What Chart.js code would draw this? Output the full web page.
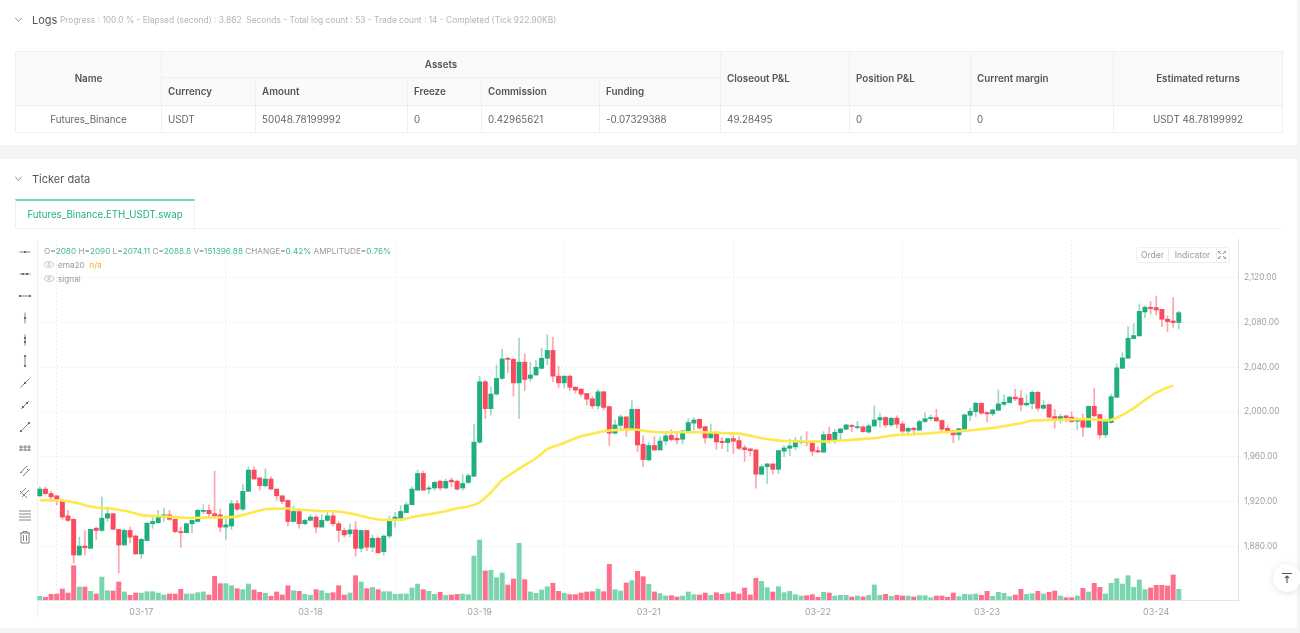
<!DOCTYPE html>
<html>
<head>
<meta charset="utf-8">
<title>Ticker data</title>
<script src="https://cdn.jsdelivr.net/npm/chart.js@4/dist/chart.umd.min.js"></script>
<style>
html,body{margin:0;padding:0;width:1300px;height:633px;overflow:hidden;background:#f3f4f6;font-family:Inter,"Noto Sans",sans-serif;color:#555;}
#page{position:absolute;left:0;top:0;width:1300px;height:633px;filter:blur(.35px);}
.panel{position:absolute;left:0;width:1297px;background:#fff;}
.abs{position:absolute;white-space:nowrap;}
.title{font-size:11px;color:#555;}
.chev{position:absolute;width:7px;height:7px;}
table{position:absolute;left:15px;top:51px;width:1267px;height:82px;border-collapse:collapse;table-layout:fixed;font-size:9.8px;color:#666;}
th,td{border:1px solid #efefef;padding:0 6px;text-align:left;font-weight:400;}
th{background:#fafafa;font-weight:600;color:#555;}
.c{text-align:center;}
.tab{left:15px;top:199px;width:180px;height:29px;line-height:28px;text-align:center;font-size:9.7px;color:#1fb27f;border-top:2px solid #6fd6b0;border-left:1px solid #f0f0f0;border-right:1px solid #f0f0f0;box-sizing:border-box;}
.tabline{left:15px;top:228px;width:1267px;height:1px;background:#f0f0f0;}
.legend{font-size:8.2px;color:#999;}
.legend b{font-weight:400;color:#3fbb8e;}
.btns{left:1136px;top:247px;width:94px;height:16px;border:1px solid #efefef;border-radius:3px;box-sizing:border-box;background:#fff;font-size:8.6px;color:#999;line-height:14px;}
.btns span{position:absolute;top:0;height:14px;text-align:center;}
#chartBox{position:absolute;left:37px;top:229px;width:1253px;height:391px;}
.toTop{left:1273px;top:564px;width:28px;height:28px;border-radius:50%;background:#fff;box-shadow:0 1px 6px rgba(0,0,0,.12);}
</style>
</head>
<body>
<div id="page">

<div class="panel" style="top:0;height:145px;"></div>
<div class="panel" style="top:159px;height:469px;"></div>

<svg class="chev" style="left:15px;top:16px;" viewBox="0 0 7 7"><path d="M0 1.5 L3.5 5.5 L7 1.5" fill="none" stroke="#777" stroke-width=".8"/></svg>
<div class="abs title" style="left:32px;top:13px;">Logs</div>
<div class="abs" style="left:60px;top:15px;font-size:8.4px;color:#b5b5b5;">Progress : 100.0 % - Elapsed (second) : 3.862&nbsp; Seconds - Total log count : 53 - Trade count : 14 - Completed (Tick 922.90KB)</div>

<table>
<colgroup><col style="width:146px"><col style="width:94px"><col style="width:152px"><col style="width:74px"><col style="width:118px"><col style="width:121px"><col style="width:129px"><col style="width:121px"><col style="width:143px"><col style="width:169px"></colgroup>
<tr style="height:26px"><th class="c" rowspan="2">Name</th><th class="c" colspan="5">Assets</th><th rowspan="2">Closeout P&amp;L</th><th rowspan="2">Position P&amp;L</th><th rowspan="2">Current margin</th><th class="c" rowspan="2">Estimated returns</th></tr>
<tr style="height:28px"><th>Currency</th><th>Amount</th><th>Freeze</th><th>Commission</th><th>Funding</th></tr>
<tr style="height:27px"><td class="c">Futures_Binance</td><td>USDT</td><td>50048.78199992</td><td>0</td><td>0.42965621</td><td>-0.07329388</td><td>49.28495</td><td>0</td><td>0</td><td class="c">USDT 48.78199992</td></tr>
</table>

<svg class="chev" style="left:15px;top:175px;" viewBox="0 0 7 7"><path d="M0 1.5 L3.5 5.5 L7 1.5" fill="none" stroke="#777" stroke-width=".8"/></svg>
<div class="abs title" style="left:32px;top:172px;">Ticker data</div>
<div class="abs tab">Futures_Binance.ETH_USDT.swap</div>
<div class="abs tabline"></div>

<div class="abs" style="left:37px;top:240px;width:1px;height:378px;background:#eeeeee;"></div>
<div id="chartBox"><canvas id="chart" width="1253" height="391"></canvas></div>

<div class="abs legend" style="left:44px;top:246px;">O=<b>2080</b> H=<b>2090</b> L=<b>2074.11</b> C=<b>2088.8</b> V=<b>151396.88</b> CHANGE=<b>0.42%</b> AMPLITUDE=<b>0.76%</b></div>
<svg class="abs" style="left:44px;top:261px;" width="10" height="7" viewBox="0 0 10 7"><ellipse cx="5" cy="3.5" rx="4.5" ry="2.8" fill="none" stroke="#aaa" stroke-width=".7"/><circle cx="5" cy="3.5" r="1.2" fill="none" stroke="#aaa" stroke-width=".7"/></svg>
<div class="abs legend" style="left:58px;top:260px;">ema20 &nbsp;<span style="color:#fbb040">n/a</span></div>
<svg class="abs" style="left:44px;top:275px;" width="10" height="7" viewBox="0 0 10 7"><ellipse cx="5" cy="3.5" rx="4.5" ry="2.8" fill="none" stroke="#aaa" stroke-width=".7"/><circle cx="5" cy="3.5" r="1.2" fill="none" stroke="#aaa" stroke-width=".7"/></svg>
<div class="abs legend" style="left:58px;top:274px;">signal</div>

<div class="abs btns">
  <span style="left:0;width:31px;">Order</span>
  <span style="left:31px;width:47px;border-left:1px solid #efefef;border-right:1px solid #efefef;">Indicator</span>
  <svg style="position:absolute;left:81px;top:3px;" width="8" height="8" viewBox="0 0 8 8"><path d="M0 2.5V0H2.5M5.5 0H8V2.5M8 5.5V8H5.5M2.5 8H0V5.5M0 0L3 3M8 0L5 3M8 8L5 5M0 8L3 5" fill="none" stroke="#777" stroke-width=".8"/></svg>
</div>

<div class="abs toTop"></div>
<svg class="abs" style="left:1281px;top:572px;" width="12" height="12" viewBox="0 0 12 12"><path d="M1 1.5H11M6 11V4M4 6L6 4L8 6" fill="none" stroke="#555" stroke-width="1.1"/></svg>

<div id="tools"></div>
</div>

<script>
// Candles (30 slots between day labels)
const opens=[
1925,1931,1927,1925,1920,1907,1904,1872,1880,1878,
1896,1894,1905,1909,1895,1881,1894,1889,1873,1885,
1900,1901,1906,1908,1904,1893,1892,1900,1902,1911,
1912,1909,1908,1897,1898,1918,1913,1929,1948,1941,
1934,1940,1931,1925,1921,1902,1911,1900,1903,1906,
1897,1903,1907,1900,1894,1891,1894.5,1878,1894,1879,
1887,1875,1889,1903,1905,1910,1917,1930,1945,1931,
1932,1938,1932,1939,1938,1932,1937,1942.5,1973,2027,
2003,2016,2030,2048,2047,2026,2044.5,2030,2033,2039,
2048,2055,2032,2026,2032,2022,2020.5,2016.5,2011.7,2005.4,
2018,2004.8,1981,1988,1995.6,1984.6,2002.4,1971,1957,1970,
1966,1974,1979,1976.4,1975.6,1982.4,1990,1993.4,1986.9,1976.8,
1981.8,1973.8,1972.6,1976.2,1974.4,1968,1967,1966,1944.3,1951,
1953.5,1948.7,1965,1967.5,1968.7,1972.6,1973.5,1972.6,1965.4,1964,
1980,1973.5,1981.5,1984.5,1987.8,1986,1986.6,1982,1987.5,1992.9,
1995,1988.4,1994.4,1989.3,1982.8,1985.4,1983.7,1991.4,1994,1995,
1992.3,1985.4,1983.4,1979.5,1984.6,1997,2000.3,2007.8,1999.5,1998.3,
2001.5,2006.9,2008.4,2013.2,2012.3,2006.3,2007.5,2017.6,2003.3,2006.6,
1995.9,1992.3,1996.5,1995.3,1991.7,1993.8,1986.3,2005,1997.7,1979.5,
1990.5,2013.1,2039,2048,2065.6,2068,2089.4,2093.6,2093.3,2091.8,
2082.9,2081.4,2080];
const closes=[
1931,1927,1924,1922,1906,1903,1872,1880,1878.5,1895,
1894,1905,1909,1895,1881,1894,1888,1873,1886,1900.5,
1902,1906,1908,1904,1893,1892,1900,1903,1912,1912,
1909,1907,1897,1899,1918,1913,1929,1948,1940,1934,
1940,1931,1925,1920,1902,1911,1900,1903,1906,1897,
1903,1907,1900,1894,1890,1894.5,1878,1894,1879,1887,
1874,1889,1903,1906,1911,1917,1931,1945,1930,1932,
1937,1932,1938,1937.5,1931,1936,1943,1973,2027,2003,
2016,2030,2047.5,2047,2026,2044.5,2029,2033,2040,2048,
2055,2032,2026,2032,2022,2019.5,2016,2011.4,2005.4,2018,
2004,1981,1988.4,1995.6,1984.6,2002.4,1970.5,1957.4,1970,1966,
1974,1978.6,1975.3,1975,1983,1990.5,1992.8,1985.7,1976.8,1981,
1973.2,1972.6,1976.2,1973.8,1967.5,1966.3,1965.4,1944.3,1951,1953.5,
1948.7,1965.4,1967.8,1969.6,1972.6,1973.5,1972.6,1964.8,1964.2,1979.7,
1973.5,1981.8,1984.8,1988.4,1986.9,1986.9,1982.4,1987.5,1992.8,1995,
1988.4,1994.4,1989,1982.8,1985.4,1984,1991.4,1994,1995,1992,
1984.6,1982.5,1979.5,1985,1997.4,2000.6,2007.8,1998.9,1998.3,2001.8,
2007.2,2008.7,2013.2,2011.7,2006.3,2007.8,2017.6,2003.3,2006,1995.3,
1993.5,1995.9,1994.7,1991.4,1993.8,1986.3,2005,1996.5,1979.5,1991.4,
2013.7,2039.4,2048.3,2065.9,2068.3,2090,2093.6,2092.4,2091.2,2082.9,
2080.8,2079.9,2088.8];
const highs=[
1933,1933,1929,1925,1922,1912,1904,1888,1894,1895,
1897,1924,1915,1909,1895,1895,1897,1890,1887,1901,
1906,1912,1914,1912,1904,1897,1900.5,1903,1913,1917,
1917,1947,1913,1907,1921,1921,1935,1951,1951,1941,
1949,1942,1931,1925,1921,1916,1911,1904,1908,1907,
1908,1911,1911,1902,1896,1900,1902,1894,1894,1890,
1888,1890,1907,1910,1916,1919,1933,1948,1947,1934,
1938,1939,1940,1941,1939,1944,1945,1989,2032,2028,
2022,2042,2056,2049,2048,2066,2052,2044.5,2046,2057,
2069,2067,2041,2032.5,2033,2023,2020.5,2016.5,2013.8,2020.3,
2018.5,2004.8,1993,1997.4,1995.6,2010,2002.4,1978.6,1972.6,1978,
1978,1981,1984,1980.3,1983.3,1994.3,1995,1994,1986.9,1989.3,
1982.4,1977.3,1976.5,1978.5,1978,1970,1967,1966,1952.6,1954,
1953.5,1966,1970,1975.6,1977.3,1978,1982.4,1972.6,1969,1982.4,
1986.3,1984.5,1985.4,1989,1989,1991.4,1987.5,1989.3,2005.4,1998.9,
1995.9,1995,1996.5,1991.4,1986,1986.3,1992.9,1999.5,1997.4,2002.4,
1992.9,1988.4,1983.4,1985.4,1998,2003.3,2008.4,2007.8,1999.8,2002.4,
2019.7,2015.2,2014.4,2020.3,2019.1,2015.2,2019.1,2018.2,2010.2,2006.6,
2002.4,1998,1997,2000,1995,1998,2005.4,2021.2,1997.7,1992,
2016,2043,2053,2076.3,2078.7,2096.6,2094.8,2098.7,2103.7,2091.8,
2085.9,2102.2,2090];
const lows=[
1924,1926,1920,1917,1904,1902,1865,1872,1872,1878,
1886,1893,1902,1895,1856,1881,1883,1873,1869,1885,
1896,1900,1902,1903,1892,1879,1892,1892,1902,1909,
1905,1906,1893,1886,1895,1912,1912,1929,1940,1930,
1933,1931,1921,1918,1898,1902,1896,1899,1903,1892,
1897,1902,1898,1884,1888,1888,1871,1875,1876,1875,
1874,1872,1887,1897,1905,1910,1917,1930,1930,1927,
1930,1930,1931,1933,1930,1930,1936,1942,1972,1994,
1997,2015,2029,2035,2014,1994,2019,2027.5,2033,2038.5,
2042,2027,2022,2021.5,2019,2017,2014,2006,2003,2002.4,
2001.8,1970,1980.4,1984,1978,1984,1964.6,1951,1957,1965.5,
1966,1970.5,1974.4,1971.4,1971.4,1982.4,1984,1984,1972,1976.5,
1966.6,1967.2,1964.5,1963,1966,1955.6,1960.7,1931.8,1943.7,1936,
1944.6,1945,1960,1961,1966,1971.4,1969.6,1960.7,1963.6,1964,
1972,1972,1975,1983.9,1982.4,1984.5,1982,1981,1986.9,1986.4,
1986.4,1987,1985.5,1981.6,1980.4,1981,1983.4,1990.5,1992.3,1991.4,
1982.5,1981,1972.6,1975,1984,1992.3,1995.9,1998,1991.1,1996.5,
2001.2,2005.4,2007.8,2010.2,2001.2,2005.4,2002.4,2001.2,2002.4,1994.7,
1985.4,1989.9,1991.4,1990.5,1984,1978,1986.3,1995.9,1976.5,1977,
1989.9,2013.1,2039,2048,2065.3,2068,2084.4,2087.6,2086.8,2076.3,
2071.8,2075.7,2074.11];
// Volume in thousands
const volumes=[
52,38,80,85,156,99,487,184,184,123,
85,326,132,128,255,114,66,99,99,118,
118,99,71,85,85,151,85,85,104,114,
71,336,232,232,203,161,147,227,142,109,
95,52,114,71,203,132,123,80,66,147,
132,95,104,203,71,99,345,255,161,180,
147,118,118,80,85,85,170,227,147,123,
80,109,66,71,80,85,76,624,851,412,
421,317,383,213,298,804,289,114,95,142,
189,237,123,95,76,76,99,114,118,156,
118,506,147,128,241,274,407,331,222,114,
90,57,61,43,57,114,76,71,99,66,
104,80,99,114,85,170,71,307,265,175,
114,189,104,123,76,57,61,76,38,109,
99,57,66,66,43,57,43,66,213,66,
80,52,66,57,57,43,61,61,33,57,
57,38,99,47,80,76,85,66,123,52,
109,95,47,71,151,80,90,123,85,109,
128,57,33,33,57,166,114,237,180,85,
237,303,227,345,180,284,147,170,208,208,
199,355,151.4];
// ema20, read every second candle; spanGaps joins the reads
const ema20=[
1921.1,null,1921,null,1920.8,null,1919.3,null,1916.6,null,
1914.5,null,1913.9,null,1912.4,null,1910.6,null,1907.7,null,
1907,null,1906.5,null,1905.9,null,1905.3,null,1905.3,null,
1905.6,null,1905.6,null,1905.9,null,1907.7,null,1910.6,null,
1913,null,1913.3,null,1913.6,null,1912.4,null,1912.1,null,
1911.2,null,1911.2,null,1910.3,null,1908.2,null,1905.9,null,
1903.8,null,1903.5,null,1903.5,null,1905.9,null,1907.7,null,
1909.4,null,1911.2,null,1913.9,null,1915.5,null,1919,null,
1928,null,1939,null,1945.8,null,1952.4,null,1958.6,null,
1966.7,null,1970.5,null,1974.4,null,1978.3,null,1980.4,null,
1982.8,null,1983.7,null,1984.3,null,1984,null,1982.5,null,
1981.8,null,1981.8,null,1981.8,null,1981.8,null,1981.8,null,
1981.5,null,1980.9,null,1980.6,null,1978.8,null,1976.4,null,
1975,null,1974,null,1973.8,null,1973.5,null,1973.5,null,
1973.8,null,1974.4,null,1975,null,1975.9,null,1976.5,null,
1978,null,1979.5,null,1979.8,null,1980.4,null,1981,null,
1981.9,null,1982.5,null,1983.1,null,1984,null,1985.2,null,
1986.4,null,1988.1,null,1989.9,null,1992.3,null,1992.6,null,
1992.9,null,1993.2,null,1993.5,null,1993.5,null,1992.9,null,
1992.9,null,1997.3,null,2003.3,null,2010.8,null,2017.3,null,
2021.8,2023.6];

const dayLabels=['03-17','03-18','03-19','03-21','03-22','03-23','03-24'];
const dayIndexes=[18,48,78,108,138,168,198];
const priceTicks=[1880,1920,1960,2000,2040,2080,2120];
const SLOTS=213;

const GREEN='#1fae7e';
const RED='#fb4a5e';
const GREEN_SOFT='rgba(31,174,126,.45)';
const RED_SOFT='rgba(251,74,94,.5)';
const VOL_GREEN='#7ad4af';
const VOL_RED='#fe6f8c';

const categories=[];
for(let i=0;i<SLOTS;i++){
  const d=dayIndexes.indexOf(i);
  categories.push(d>=0?dayLabels[d]:'');
}
const isUp=i=>closes[i]>=opens[i];

// Left hand drawing tools: line, then the little handle dots on it
const toolRows=[252,274,296,318,340,361,383,405,427,449,471,493,515,537];
const toolPaths=[
  'M1.5 7H12.5','M1.5 7H12.5','M1.5 7H12.5',
  'M7 1.5V12.5','M7 1.5V12.5','M7 1.5V12.5',
  'M2.5 11.5L11.5 2.5','M3 11L11 3','M3 11L11 3',
  'M1 5H13M1 8H13M3 3V9M7 3V9M11 3V9',
  'M2 9L9 2M5 12L12 5M3 8l1 1M9 5l1 1',
  'M2 8L8 2M4 11L11 4M2 5L9 12',
  'M1 3H13M1 6H13M1 9H13M1 12H13',
  'M2 3H12M5 3V1.5H9V3M3 3V13H11V3M5.5 5V11M8.5 5V11'
];
const toolDots=[
  [[7,7]],[[5,7],[9,7]],[[2,7],[12,7]],
  [[7,7]],[[7,5],[7,9]],[[7,2],[7,12]],
  [[7,7]],[[5,9],[9,5]],[[3,11],[11,3]],
  [],[],[],[],[]
];
const tools=document.getElementById('tools');
toolRows.forEach((y,i)=>{
  const dots=toolDots[i].map(p=>`<circle cx="${p[0]}" cy="${p[1]}" r="1.1" fill="#555"/>`).join('');
  tools.innerHTML+=`<svg class="abs" style="left:18px;top:${y-7}px" width="14" height="14" viewBox="0 0 14 14"><path d="${toolPaths[i]}" fill="none" stroke="#666" stroke-width=".8"/>${dots}</svg>`;
});

new Chart(document.getElementById('chart'),{
  type:'bar',
  data:{
    labels:categories,
    datasets:[
      {type:'line',label:'ema20',data:ema20,yAxisID:'y',borderColor:'#ffe84d',borderWidth:2.6,pointRadius:0,spanGaps:true,tension:.25,order:0},
      {label:'body',data:opens.map((o,i)=>[o,closes[i]]),yAxisID:'y',barThickness:4.3,
       backgroundColor:opens.map((o,i)=>isUp(i)?GREEN:RED),order:1},
      {label:'wick',data:lows.map((l,i)=>[l,highs[i]]),yAxisID:'y',barThickness:1,
       backgroundColor:lows.map((l,i)=>isUp(i)?GREEN_SOFT:RED_SOFT),order:2},
      {label:'volume',data:volumes,yAxisID:'vol',barThickness:4.3,
       backgroundColor:volumes.map((v,i)=>isUp(i)?VOL_GREEN:VOL_RED),order:3}
    ]
  },
  options:{
    responsive:false,
    animation:false,
    layout:{padding:0},
    datasets:{bar:{grouped:false}},
    plugins:{legend:{display:false},tooltip:{enabled:false}},
    scales:{
      x:{
        offset:true,
        grid:{color:'#efefef',drawTicks:false},
        border:{display:true,color:'#e4e4e4',dash:[2,2]},
        ticks:{
          autoSkip:false,maxRotation:0,padding:7,color:'#a0a0a0',font:{family:'Inter',size:9},
          callback(v,i){return categories[i]?categories[i]:null;}
        },
        afterFit(axis){axis.height=20;}
      },
      y:{
        position:'right',
        min:1831.8,max:2153.8,
        grid:{color:'#efefef',drawTicks:false},
        border:{display:true,color:'#e0e0e0',dash:[2,2]},
        afterBuildTicks(axis){axis.ticks=priceTicks.map(v=>({value:v}));},
        ticks:{
          padding:6,color:'#a0a0a0',font:{family:'Inter',size:8.3},
          callback(v){return v.toLocaleString('en-US',{minimumFractionDigits:2,maximumFractionDigits:2});}
        },
        afterFit(axis){axis.width=52;}
      },
      vol:{display:false,min:0,max:5108}
    }
  }
});
</script>
</body>
</html>
